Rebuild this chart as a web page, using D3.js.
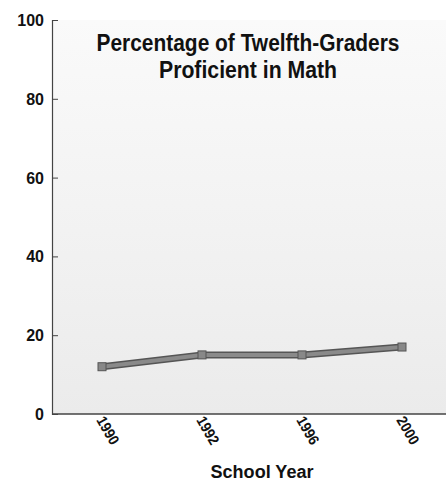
<!DOCTYPE html>
<meta charset="utf-8">
<style>
	body { margin: 0; background: #fff; }
	text { font-family: "Liberation Sans", Arial, sans-serif; font-weight: bold; fill: #111; }
</style>
<div id="vis"></div>
<script src="https://cdn.jsdelivr.net/npm/d3@7"></script>
<script>
	// data
	const years = ['1990', '1992', '1996', '2000'];
	const percent = [12, 15, 15, 17];
	const yTicks = [0, 20, 40, 60, 80, 100];
	const titleLines = ['Percentage of Twelfth-Graders', 'Proficient in Math'];

	const width = 446, height = 482;
	const margin = { left: 52, top: 20, right: 0, bottom: 68 };

	const svg = d3.select('#vis').append('svg')
		.attr('width', width)
		.attr('height', height);

	// background gradient of plot area
	const grad = svg.append('defs').append('linearGradient')
		.attr('id', 'bg').attr('x1', 0).attr('y1', 0).attr('x2', 0).attr('y2', 1);
	grad.append('stop').attr('offset', '0%').attr('stop-color', '#fafafa');
	grad.append('stop').attr('offset', '100%').attr('stop-color', '#ebebeb');

	const x = d3.scalePoint()
		.domain(years)
		.range([102, 402]);

	const y = d3.scaleLinear()
		.domain([0, 100])
		.range([height - margin.bottom, margin.top]);

	svg.append('rect')
		.attr('x', margin.left)
		.attr('y', margin.top)
		.attr('width', width - margin.left)
		.attr('height', y(0) - margin.top)
		.attr('fill', 'url(#bg)');

	// y axis
	const gy = svg.append('g')
		.attr('transform', 'translate(' + margin.left + ',0)')
		.call(d3.axisRight(y).tickValues(yTicks).tickSize(6).tickFormat(d3.format('d')));
	gy.select('.domain').attr('stroke', '#444').attr('stroke-width', 1.2);
	gy.selectAll('.tick line').attr('stroke', '#444');
	gy.selectAll('.tick text')
		.attr('x', -8)
		.attr('dy', '0.34em')
		.attr('text-anchor', 'end')
		.attr('font-size', 16)
		.attr('fill', '#111');

	// x axis line
	svg.append('line')
		.attr('x1', margin.left).attr('x2', width)
		.attr('y1', y(0)).attr('y2', y(0))
		.attr('stroke', '#444').attr('stroke-width', 1.5);

	// x labels rotated
	svg.append('g').selectAll('text')
		.data(years).enter()
		.append('text')
		.attr('transform', d => 'translate(' + (x(d) - 6) + ',' + (y(0) + 6) + ') rotate(60) scale(0.9,1)')
		.attr('font-size', 15)
		.text(d => d);

	// line
	const line = d3.line()
		.x((d, i) => x(years[i]))
		.y(d => y(d));

	svg.append('path')
		.datum(percent)
		.attr('d', line)
		.attr('fill', 'none')
		.attr('stroke', '#555')
		.attr('stroke-width', 7);
	svg.append('path')
		.datum(percent)
		.attr('d', line)
		.attr('fill', 'none')
		.attr('stroke', '#8a8a8a')
		.attr('stroke-width', 4);

	svg.append('g').selectAll('rect')
		.data(percent).enter()
		.append('rect')
		.attr('x', (d, i) => x(years[i]) - 4)
		.attr('y', d => y(d) - 4)
		.attr('width', 8)
		.attr('height', 8)
		.attr('fill', '#888')
		.attr('stroke', '#555')
		.attr('stroke-width', 1);

	// title
	const titleWidths = [303, 178];
	svg.append('g').selectAll('text')
		.data(titleLines).enter()
		.append('text')
		.attr('x', 248)
		.attr('y', (d, i) => 51 + i * 27)
		.attr('text-anchor', 'middle')
		.attr('font-size', 23)
		.attr('textLength', (d, i) => titleWidths[i])
		.attr('lengthAdjust', 'spacingAndGlyphs')
		.text(d => d);

	// x axis title
	svg.append('text')
		.attr('x', 262)
		.attr('y', 478)
		.attr('text-anchor', 'middle')
		.attr('font-size', 18)
		.attr('textLength', 103)
		.attr('lengthAdjust', 'spacingAndGlyphs')
		.text('School Year');
</script>
